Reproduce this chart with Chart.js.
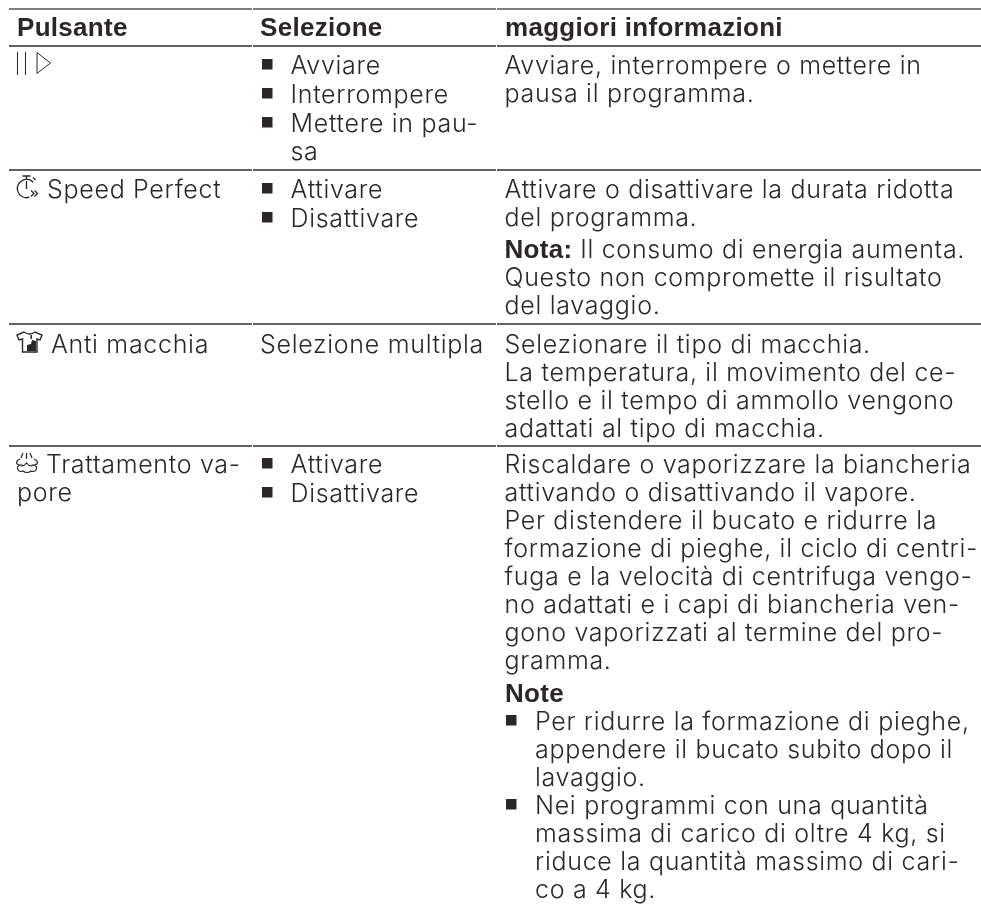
<!DOCTYPE html>
<html>
<head>
<meta charset="utf-8">
<style>
  html, body { margin: 0; padding: 0; background: #fff; }
  canvas { display: block; }
</style>
<script src="https://cdn.jsdelivr.net/npm/chart.js@4"></script>
</head>
<body>
<canvas id="tableChart" width="981" height="905"></canvas>
<script>
const headers = ['Pulsante', 'Selezione', 'maggiori informazioni'];

const pulsanti = [
  [],
  ['Speed Perfect'],
  ['Anti macchia'],
  ['Trattamento va-', 'pore']
];

const selezioni = [
  [['Avviare'], ['Interrompere'], ['Mettere in pau-', 'sa']],
  [['Attivare'], ['Disattivare']],
  null,
  [['Attivare'], ['Disattivare']]
];
const selezioneSemplice = { 2: ['Selezione multipla'] };

const informazioni = [
  [{ lines: ['Avviare, interrompere o mettere in', 'pausa il programma.'] }],
  [
    { lines: ['Attivare o disattivare la durata ridotta', 'del programma.'] },
    { lead: 'Nota:', lines: [' Il consumo di energia aumenta.', 'Questo non compromette il risultato', 'del lavaggio.'] }
  ],
  [{ lines: ['Selezionare il tipo di macchia.', 'La temperatura, il movimento del ce-', 'stello e il tempo di ammollo vengono', 'adattati al tipo di macchia.'] }],
  [
    { lines: ['Riscaldare o vaporizzare la biancheria', 'attivando o disattivando il vapore.', 'Per distendere il bucato e ridurre la', 'formazione di pieghe, il ciclo di centri-', 'fuga e la velocità di centrifuga vengo-', 'no adattati e i capi di biancheria ven-', 'gono vaporizzati al termine del pro-', 'gramma.'] },
    { head: 'Note' },
    { bullet: true, lines: ['Per ridurre la formazione di pieghe,', 'appendere il bucato subito dopo il', 'lavaggio.'] },
    { bullet: true, lines: ['Nei programmi con una quantità', 'massima di carico di oltre 4 kg, si', 'riduce la quantità massimo di cari-', 'co a 4 kg.'] }
  ]
];

// table structure, in picture pixels
const ruleRows = [9, 46, 170, 324, 446];
const columnEdges = [9, 252, 496, 981];
const firstBaselines = [74, 198, 353, 473];
const columnText = [17, 260, 505];
const iconIndent = [0, 30, 34, 29];

const INK = '#2b2728';
const LINE_H = 28;
const REGULAR = '300 25px Inter';
const BOLD = 'bold 26px "Liberation Sans"';
const SPACING = '0.7px';
const BOLD_SPACING = '0.3px';

const ruleDatasets = [];
ruleRows.forEach((row, r) => {
  for (let c = 0; c < columnEdges.length - 1; c++) {
    ruleDatasets.push({
      data: [
        { x: columnEdges[c] + (c ? 1 : 0), y: row },
        { x: columnEdges[c + 1], y: row }
      ],
      showLine: true,
      borderColor: r === 0 ? '#55524f' : '#2f2c2d',
      borderWidth: r === 0 ? 1.6 : 1.4,
      pointRadius: 0
    });
  }
});

function drawPause(ctx) {
  ctx.lineWidth = 1;
  ctx.beginPath();
  ctx.moveTo(17.5, 52); ctx.lineTo(17.5, 75);
  ctx.moveTo(25.5, 52); ctx.lineTo(25.5, 75);
  ctx.moveTo(37, 52.5); ctx.lineTo(50.5, 63); ctx.lineTo(37, 73.5); ctx.closePath();
  ctx.stroke();
}

function drawWatch(ctx) {
  ctx.lineWidth = 1.3;
  ctx.beginPath();
  ctx.arc(26.5, 188.5, 9.2, 1.25, Math.PI * 2 - 0.75);
  ctx.moveTo(22.5, 176); ctx.lineTo(30.5, 176);
  ctx.moveTo(26.5, 176); ctx.lineTo(26.5, 179);
  ctx.moveTo(26.5, 181); ctx.lineTo(26.5, 189);
  ctx.moveTo(33, 177.5); ctx.lineTo(35.5, 180);
  ctx.moveTo(31, 190.5); ctx.lineTo(34, 193.5); ctx.lineTo(31, 196.5);
  ctx.moveTo(34.5, 190.5); ctx.lineTo(37.5, 193.5); ctx.lineTo(34.5, 196.5);
  ctx.stroke();
}

function drawShirt(ctx) {
  ctx.lineWidth = 1.4;
  ctx.beginPath();
  ctx.moveTo(24, 332); ctx.lineTo(17, 335); ctx.lineTo(19, 340); ctx.lineTo(22.5, 339);
  ctx.lineTo(22.5, 352); ctx.lineTo(37, 352); ctx.lineTo(37, 339); ctx.lineTo(40, 340);
  ctx.lineTo(42, 335); ctx.lineTo(35, 332);
  ctx.quadraticCurveTo(29.5, 336, 24, 332);
  ctx.stroke();
  ctx.beginPath();
  ctx.moveTo(36, 341); ctx.lineTo(36, 351); ctx.lineTo(27, 351); ctx.lineTo(27, 345);
  ctx.lineTo(31, 344); ctx.lineTo(32, 340);
  ctx.closePath();
  ctx.fill();
  ctx.fillRect(30.5, 335, 1.5, 4);
}

function drawSteam(ctx) {
  ctx.lineWidth = 1.2;
  ctx.beginPath();
  ctx.moveTo(26.5, 453); ctx.lineTo(26.5, 459);
  ctx.moveTo(23, 453); ctx.lineTo(21, 458);
  ctx.moveTo(30, 453); ctx.lineTo(32, 458);
  ctx.moveTo(20, 459);
  ctx.bezierCurveTo(15, 461, 16, 465, 20, 465);
  ctx.bezierCurveTo(15, 467, 18, 473, 23, 471);
  ctx.bezierCurveTo(25, 473, 29, 473, 31, 471);
  ctx.bezierCurveTo(36, 473, 39, 467, 34, 465);
  ctx.bezierCurveTo(38, 465, 39, 461, 34, 459);
  ctx.moveTo(20, 465); ctx.bezierCurveTo(23, 467, 25, 465, 26.5, 463);
  ctx.bezierCurveTo(28, 465, 31, 467, 34, 465);
  ctx.stroke();
}

const tableText = {
  id: 'tableText',
  afterDatasetsDraw(chart) {
    const { ctx, scales } = chart;
    const px = v => scales.x.getPixelForValue(v);
    const py = v => scales.y.getPixelForValue(v);
    const useRegular = () => { ctx.font = REGULAR; ctx.letterSpacing = SPACING; };
    const useBold = () => { ctx.font = BOLD; ctx.letterSpacing = BOLD_SPACING; };
    ctx.save();
    ctx.fillStyle = INK;
    ctx.strokeStyle = INK;
    ctx.textBaseline = 'alphabetic';

    useBold();
    headers.forEach((h, c) => ctx.fillText(h, px(columnText[c]), py(36)));

    const square = (x, base) => ctx.fillRect(px(x), py(base - 15), 10.5, 10.5);

    firstBaselines.forEach((base, r) => {
      useRegular();
      pulsanti[r].forEach((line, i) => {
        const x = columnText[0] + (i === 0 ? iconIndent[r] : 0);
        ctx.fillText(line, px(x), py(base + i * LINE_H));
      });

      if (selezioni[r]) {
        let y = base;
        selezioni[r].forEach(item => {
          square(columnText[1] + 2, y);
          item.forEach(line => {
            ctx.fillText(line, px(290.5), py(y));
            y += LINE_H;
          });
          y += 1;
        });
      } else {
        ctx.fillText(selezioneSemplice[r][0], px(columnText[1]), py(base));
      }

      let y = base;
      informazioni[r].forEach(block => {
        if (block.head) {
          y += 5;
          useBold();
          ctx.fillText(block.head, px(columnText[2]), py(y));
          useRegular();
          y += LINE_H;
          return;
        }
        if (block.lead) y += 4;
        if (block.bullet) square(columnText[2] + 1, y);
        block.lines.forEach((line, i) => {
          const x = block.bullet ? 535 : columnText[2] - 0.5;
          if (i === 0 && block.lead) {
            useBold();
            ctx.fillText(block.lead, px(x), py(y));
            const w = ctx.measureText(block.lead).width;
            useRegular();
            ctx.fillText(line, px(x) + w, py(y));
          } else {
            ctx.fillText(line, px(x), py(y));
          }
          y += LINE_H;
        });
      });
    });

    drawPause(ctx);
    drawWatch(ctx);
    drawShirt(ctx);
    drawSteam(ctx);
    ctx.restore();
  }
};

new Chart(document.getElementById('tableChart'), {
  type: 'scatter',
  data: { datasets: ruleDatasets },
  plugins: [tableText],
  options: {
    responsive: false,
    animation: false,
    layout: { padding: 0 },
    plugins: { legend: { display: false }, tooltip: { enabled: false } },
    scales: {
      x: { type: 'linear', min: 0, max: 981, display: false },
      y: { type: 'linear', min: 0, max: 905, reverse: true, display: false }
    }
  }
});
</script>
</body>
</html>
